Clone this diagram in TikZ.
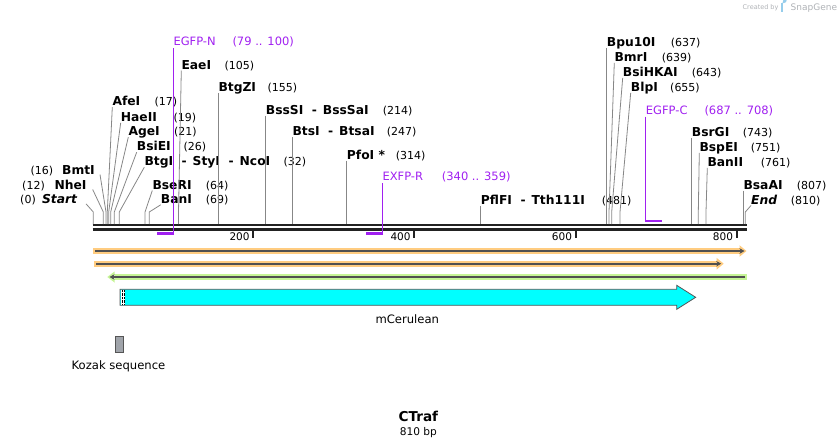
\documentclass[tikz,border=0pt]{standalone}
\usepackage{fontspec}
\setmainfont{DejaVu Sans}
\usetikzlibrary{calc,arrows.meta}
\definecolor{leadgray}{RGB}{135,135,135}
\definecolor{barblack}{RGB}{34,34,34}
\definecolor{primer}{RGB}{160,32,240}
\definecolor{orangeband}{RGB}{255,204,128}
\definecolor{greenband}{RGB}{198,245,150}
\definecolor{featline}{RGB}{80,80,80}
\definecolor{cyanfill}{RGB}{0,255,255}
\definecolor{outl}{RGB}{85,85,85}
\definecolor{kozakfill}{RGB}{160,164,170}
\definecolor{credit}{RGB}{175,178,182}
\definecolor{logoblue}{RGB}{150,205,235}
\tikzset{
  enzname/.style={inner sep=0pt, font=\fontsize{12.3}{14}\selectfont\bfseries},
  enzital/.style={inner sep=0pt, font=\fontsize{12.3}{14}\selectfont\bfseries\itshape},
  enznum/.style={inner sep=0pt, font=\fontsize{11}{13}\selectfont},
  primlab/.style={inner sep=0pt, text=primer, font=\fontsize{11.5}{13}\selectfont},
  leader/.style={draw=leadgray, line width=0.8pt},
  primline/.style={draw=primer, line width=1.5pt},
  primbar/.style={draw=primer, line width=2.4pt},
  featlab/.style={inner sep=0pt, font=\fontsize{11.6}{13}\selectfont},
  rulelab/.style={inner sep=0pt, font=\fontsize{10.5}{12}\selectfont},
  tickline/.style={draw=barblack, line width=2pt},
  seqbar/.style={draw=barblack, line width=2.2pt},
}
\newcommand\dsep{\hspace{8.5pt}-\hspace{6pt}}
% right-hand enzyme label: id, name x, centre y, name, number x, number, site x
\newcommand\cutR[7]{%
  \node[enzname, anchor=base west] (#1) at (#2,#3+4) {#4};
  \node[enznum, anchor=base west] (#1n) at (#5,#3+4) {#6};
  \coordinate (#1k) at (#7,212);
  \coordinate (#1s) at (#7,224);
  \draw[leader] ($(#1.base west)+(0,1.5)$) -- (#1k) -- (#1s);
}
% left-hand enzyme label: id, name right x, centre y, name, number right x, number, site x, offset
\newcommand\cutL[8]{%
  \node[enzname, anchor=base east] (#1) at (#2,#3+4) {#4};
  \node[enznum, anchor=base east] (#1n) at (#5,#3+4) {#6};
  \coordinate (#1k) at (#7,212);
  \coordinate (#1s) at (#7,224);
  \draw[leader] ($(#1.base east)+(#8,0.5)$) -- (#1k) -- (#1s);
}
\begin{document}
\begin{tikzpicture}[x=1pt,y=-1pt]
\useasboundingbox (0,0) rectangle (840,447);

% credit
\node[inner sep=0pt, anchor=base west, text=credit, font=\fontsize{6.5}{7}\selectfont] (cr) at (742.5,9.5) {Created by};
\fill[logoblue] (781,3) rectangle (782.8,12);
\fill[logoblue] (781,3) -- (784,3) arc (90:-90:2.6) -- (781,8.2) -- cycle;
\node[inner sep=0pt, anchor=base west, text=credit, font=\fontsize{9}{10}\selectfont] (sg) at (790.5,10.5) {SnapGene};

% sequence bar
\coordinate (b1l) at (92.7,225.2); \coordinate (b1r) at (746.7,225.2);
\coordinate (b2l) at (92.7,229.5); \coordinate (b2r) at (746.7,229.5);
\draw[seqbar] (b1l) -- (b1r);
\draw[seqbar] (b2l) -- (b2r);

% ruler
\foreach \tx/\lab in {253.3/200, 414.3/400, 575.7/600, 736.7/800}{
  \draw[tickline] (\tx,231) -- (\tx,237.5);
  \node[rulelab, anchor=base east] at (\tx-3.5,240.5) {\lab};
}

% enzymes, left side
\cutL{eStart}{77.7}{199.3}{\textit{Start}}{36}{(0)}{93.3}{8.3}
\cutL{eNhe}{86.7}{185}{NheI}{45}{(12)}{103.3}{6}
\cutL{eBmt}{95}{170}{BmtI}{53.3}{(16)}{106}{5}

% enzymes, right side
\cutR{eAfe}{112.3}{101.7}{AfeI}{154.3}{(17)}{107.3}
\cutR{eHae}{120.7}{117.3}{HaeII}{173.3}{(19)}{108.7}
\cutR{eAge}{128.3}{131.7}{AgeI}{174}{(21)}{110.7}
\cutR{eBsiE}{136.7}{146.7}{BsiEI}{183.3}{(26)}{114.3}
\cutR{eBtg}{144.3}{161.7}{BtgI\dsep StyI\dsep NcoI}{283.3}{(32)}{119.3}
\cutR{eBseR}{152.3}{185}{BseRI}{205.7}{(64)}{145}
\cutR{eBan}{160.7}{199.3}{BanI}{205.7}{(69)}{149.3}
\cutR{eEae}{181.3}{65}{EaeI}{224.3}{(105)}{178.5}
\cutR{eBtgZ}{218.3}{87.3}{BtgZI}{267.3}{(155)}{218.3}
\cutR{eBssS}{265.7}{110}{BssSI\dsep BssSaI}{382.7}{(214)}{265.7}
\cutR{eBts}{292.3}{131.7}{BtsI\dsep BtsaI}{386.7}{(247)}{292.3}
\cutR{ePfo}{346.7}{155}{PfoI *}{395.7}{(314)}{346.7}
\cutR{ePflF}{480.7}{200}{PflFI\dsep Tth111I}{601.7}{(481)}{480.7}
\cutR{eBpu}{606.7}{42.7}{Bpu10I}{670.7}{(637)}{606.7}
\cutR{eBmr}{614.3}{57.3}{BmrI}{661.7}{(639)}{609}
\cutR{eBsiHKA}{622.7}{72.3}{BsiHKAI}{691.7}{(643)}{611.7}
\cutR{eBlp}{630.7}{87.3}{BlpI}{670}{(655)}{620}
\cutR{eBsrG}{691.7}{132.3}{BsrGI}{742.7}{(743)}{691.7}
\cutR{eBspE}{699.3}{147.3}{BspEI}{750.7}{(751)}{698.3}
\cutR{eBanII}{707.3}{162.3}{BanII}{760.7}{(761)}{706}
\cutR{eBsaA}{743.3}{185}{BsaAI}{796.7}{(807)}{743.3}
\node[enzital, anchor=base west] (eEnd) at (751,204) {End};
\node[enznum, anchor=base west] (eEndn) at (790.7,204) {(810)};
\coordinate (eEndk) at (745.3,212);
\coordinate (eEnds) at (745.3,224);
\draw[leader] ($(eEnd.base west)+(0,1.5)$) -- (eEndk) -- (eEnds);

% primers
\node[primlab, anchor=base west] (pN) at (173.3,45.8) {EGFP-N};
\node[primlab, anchor=base west] (pNn) at (232.3,45.8) {(79 .. 100)};
\coordinate (pNa) at (173.3,233.3); \coordinate (pNb) at (156.7,233.3);
\draw[primline] ($(pN.base west)+(0,2.5)$) -- (pNa);
\draw[primbar] ($(pNa)+(0.75,0)$) -- (pNb);

\node[primlab, anchor=base west] (pR) at (382.3,180.8) {EXFP-R};
\node[primlab, anchor=base west] (pRn) at (441.7,180.8) {(340 .. 359)};
\coordinate (pRa) at (382.3,233.3); \coordinate (pRb) at (366,233.3);
\draw[primline] ($(pR.base west)+(0,2.5)$) -- (pRa);
\draw[primbar] ($(pRa)+(0.75,0)$) -- (pRb);

\node[primlab, anchor=base west] (pC) at (645.7,114.1) {EGFP-C};
\node[primlab, anchor=base west] (pCn) at (704.3,114.1) {(687 .. 708)};
\coordinate (pCa) at (645.7,220.8); \coordinate (pCb) at (662,220.8);
\draw[primline] ($(pC.base west)+(0,2.5)$) -- (pCa);
\draw[primbar] ($(pCa)+(-0.75,0)$) -- (pCb);

% feature rows
\fill[orangeband] (92.7,248) rectangle (739.5,254);
\fill[orangeband] (739.5,245.2) -- (746.5,251) -- (739.5,256.8) -- cycle;
\draw[featline, line width=1.6pt, -{Stealth[length=5pt,width=5.5pt]}] (95,251) -- (744.5,251);

\fill[orangeband] (94,260.7) rectangle (716.7,266.7);
\fill[orangeband] (716.7,257.9) -- (723.7,263.7) -- (716.7,269.5) -- cycle;
\draw[featline, line width=1.6pt, -{Stealth[length=5pt,width=5.5pt]}] (96,263.7) -- (721.2,263.7);

\fill[greenband] (114.5,274) rectangle (746.7,280);
\fill[greenband] (114.5,271.5) -- (107.3,277) -- (114.5,282.5) -- cycle;
\draw[featline, line width=1.6pt, -{Stealth[length=5pt,width=5.5pt]}] (745,277) -- (109.5,277);

% mCerulean
\draw[outl, fill=cyanfill, line width=0.8pt, line join=miter]
  (120,289.3) -- (676.7,289.3) -- (676.7,285.3) -- (695.7,297.3) -- (676.7,309.3) -- (676.7,305.3) -- (120,305.3) -- cycle;
\fill[white] (120.5,289.8) rectangle (125.4,304.8);
\draw[black, line width=0.6pt, dash pattern=on 0.7pt off 0.7pt] (122.2,289.8) -- (122.2,304.8);
\draw[black, line width=0.6pt, dash pattern=on 0.7pt off 0.7pt] (124.1,289.8) -- (124.1,304.8);
\node[featlab, anchor=base] (fCer) at (407.3,323) {mCerulean};

% Kozak
\draw[outl, fill=kozakfill, line width=0.8pt] (115,336) rectangle (123.3,352.3);
\node[featlab, anchor=base] (fKoz) at (118.5,369) {Kozak sequence};

% title
\node[inner sep=0pt, anchor=base, font=\fontsize{13.6}{15}\selectfont\bfseries] (title) at (418.3,421.5) {CTraf};
\node[inner sep=0pt, anchor=base, font=\fontsize{10.6}{12}\selectfont] (len) at (418.3,435.5) {810 bp};
\end{tikzpicture}
\end{document}
